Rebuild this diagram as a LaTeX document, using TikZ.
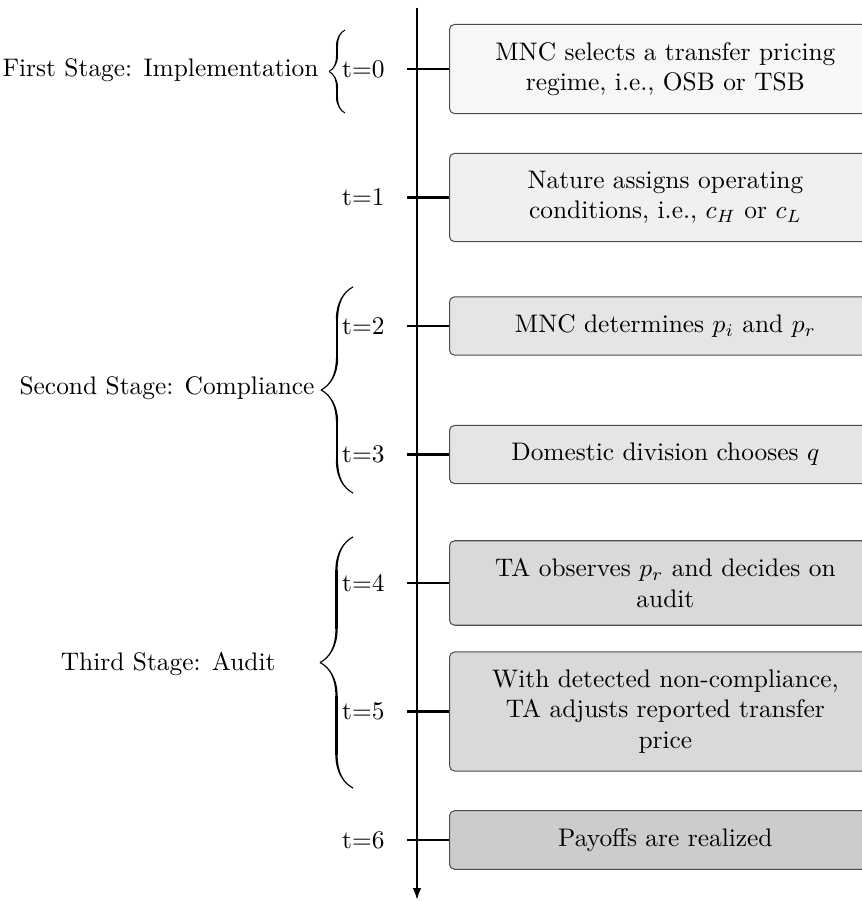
\documentclass[tikz,border=0pt]{standalone}
\usetikzlibrary{arrows.meta,decorations.pathreplacing,calligraphy}
\begin{document}
\begin{tikzpicture}[x=0.3937pt,y=-0.3937pt,
  evbox/.style={draw=black!70, rounded corners=2pt, text width=150pt, align=center,
    inner xsep=10pt, inner ysep=7pt, anchor=west},
  tlabel/.style={anchor=east, inner sep=0pt},
  stagelabel/.style={anchor=east, inner sep=0pt},
  stagebrace/.style={decorate, decoration={calligraphic brace, amplitude=#1}, pen colour={black}, line width=0.9pt},
  axisline/.style={thick},
]
\useasboundingbox (0,0) rectangle (861,901);
% time axis
\coordinate (top) at (417,8);
\coordinate (bot) at (417,900);
\draw[axisline,-{Latex[length=4.7pt,width=3.4pt]}] (top) -- (bot);

% events
\node[evbox, fill=black!3] (e0) at (449,69) {MNC selects a transfer pricing\\regime, i.e., OSB or TSB};
\node[evbox, fill=black!6] (e1) at (449,197.5) {Nature assigns operating\\conditions, i.e., $c_H$ or $c_L$};
\node[evbox, fill=black!10] (e2) at (449,326) {MNC determines $p_i$ and $p_r$};
\node[evbox, fill=black!10] (e3) at (449,454.5) {Domestic division chooses $q$};
\node[evbox, fill=black!15] (e4) at (449,583) {TA observes $p_r$ and decides on\\audit};
\node[evbox, fill=black!15] (e5) at (449,711.5) {With detected non-compliance,\\TA adjusts reported transfer\\price};
\node[evbox, fill=black!20] (e6) at (449,840) {Payoffs are realized};

% ticks
\coordinate (k0) at (407,69);
\coordinate (k1) at (407,197.5);
\coordinate (k2) at (407,326);
\coordinate (k3) at (407,454.5);
\coordinate (k4) at (407,583);
\coordinate (k5) at (407,711.5);
\coordinate (k6) at (407,840);
\foreach \i in {0,...,6} {\draw[axisline] (k\i) -- (e\i.west);}

% time labels
\node[tlabel] (l0) at (385,69) {t=0};
\node[tlabel] (l1) at (385,197.5) {t=1};
\node[tlabel] (l2) at (385,326) {t=2};
\node[tlabel] (l3) at (385,454.5) {t=3};
\node[tlabel] (l4) at (385,583) {t=4};
\node[tlabel] (l5) at (385,711.5) {t=5};
\node[tlabel] (l6) at (385,840) {t=6};

% braces
\coordinate (b1s) at (345,113);
\coordinate (b1e) at (345,30);
\coordinate (b2s) at (353,493);
\coordinate (b2e) at (353,287);
\coordinate (b3s) at (353,788);
\coordinate (b3e) at (353,537);
\draw[stagebrace=6.3pt, line width=0.8pt] (b1s) -- (b1e);
\draw[stagebrace=12.6pt] (b2s) -- (b2e);
\draw[stagebrace=13pt] (b3s) -- (b3e);

% stage labels
\node[stagelabel] (s1) at (319,70) {First Stage: Implementation};
\node[stagelabel] (s2) at (315,388) {Second Stage: Compliance};
\node[stagelabel] (s3) at (276,664) {Third Stage: Audit};
\end{tikzpicture}
\end{document}
